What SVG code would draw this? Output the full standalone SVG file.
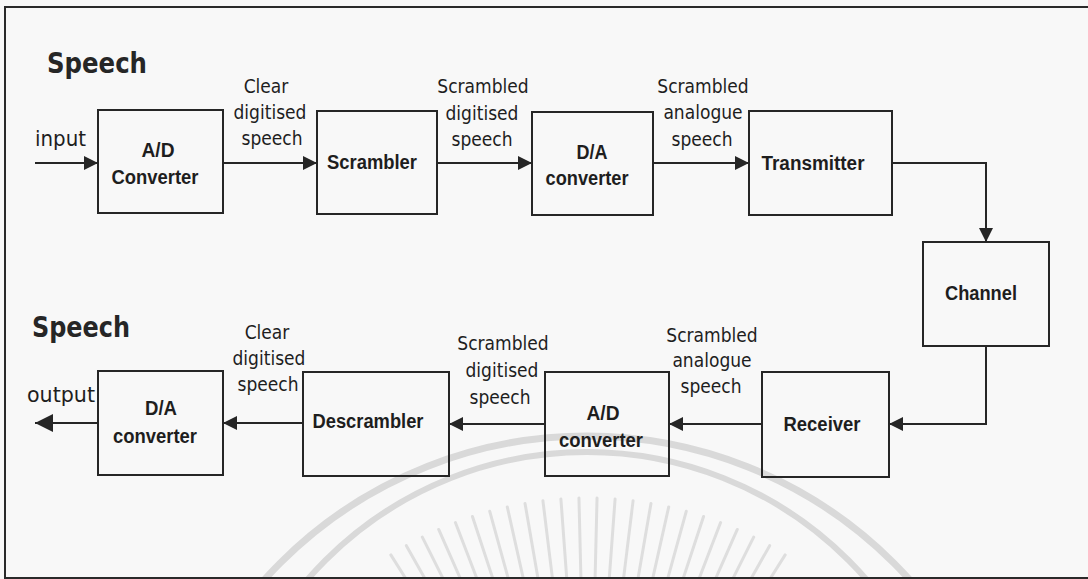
<svg xmlns="http://www.w3.org/2000/svg" width="1088" height="579" viewBox="0 0 1088 579">
  <defs>
    <style>
      .box { fill: none; stroke: #262626; stroke-width: 2; }
      .wire { fill: none; stroke: #262626; stroke-width: 2; }
      .lbl { font-family: "DejaVu Sans Condensed", "DejaVu Sans", sans-serif; font-size: 19px; fill: #1e1e1e; text-anchor: middle; }
      .io { font-family: "DejaVu Sans Condensed", "DejaVu Sans", sans-serif; font-size: 21px; fill: #1e1e1e; }
      .title { font-family: "DejaVu Sans Condensed", "DejaVu Sans", sans-serif; font-size: 29px; font-weight: bold; fill: #262626; }
      .node { font-family: "Liberation Sans", Arial, sans-serif; font-size: 20px; font-weight: bold; fill: #1e1e1e; text-anchor: middle; }
      .wm { fill: none; stroke: #d9d9d9; }
    </style>
    <marker id="head" markerUnits="userSpaceOnUse" markerWidth="14" markerHeight="14" refX="14" refY="7" orient="auto">
      <path d="M0,0 L14,7 L0,14 Z" fill="#262626"/>
    </marker>
    <marker id="headBig" markerUnits="userSpaceOnUse" markerWidth="18" markerHeight="18" refX="18" refY="9" orient="auto">
      <path d="M0,0 L18,9 L0,18 Z" fill="#262626"/>
    </marker>
  </defs>

  <!-- paper -->
  <rect x="0" y="0" width="1088" height="579" fill="#f8f8f8"/>

  <!-- faint seal in the background -->
  <g id="seal">
    <circle class="wm" cx="587" cy="870" r="434" stroke-width="7"/>
    <circle class="wm" cx="587" cy="822" r="370" stroke-width="6"/>
    <g transform="translate(588,868)" stroke="#dedede" stroke-width="3" stroke-linecap="round">
      <line x1="0" y1="-285" x2="0" y2="-370" transform="rotate(-32.2)"/>
      <line x1="0" y1="-285" x2="0" y2="-370" transform="rotate(-29.4)"/>
      <line x1="0" y1="-285" x2="0" y2="-370" transform="rotate(-26.6)"/>
      <line x1="0" y1="-285" x2="0" y2="-370" transform="rotate(-23.8)"/>
      <line x1="0" y1="-285" x2="0" y2="-370" transform="rotate(-21)"/>
      <line x1="0" y1="-285" x2="0" y2="-370" transform="rotate(-18.2)"/>
      <line x1="0" y1="-285" x2="0" y2="-370" transform="rotate(-15.4)"/>
      <line x1="0" y1="-285" x2="0" y2="-370" transform="rotate(-12.6)"/>
      <line x1="0" y1="-285" x2="0" y2="-370" transform="rotate(-9.8)"/>
      <line x1="0" y1="-285" x2="0" y2="-370" transform="rotate(-7)"/>
      <line x1="0" y1="-285" x2="0" y2="-370" transform="rotate(-4.2)"/>
      <line x1="0" y1="-285" x2="0" y2="-370" transform="rotate(-1.4)"/>
      <line x1="0" y1="-285" x2="0" y2="-370" transform="rotate(1.4)"/>
      <line x1="0" y1="-285" x2="0" y2="-370" transform="rotate(4.2)"/>
      <line x1="0" y1="-285" x2="0" y2="-370" transform="rotate(7)"/>
      <line x1="0" y1="-285" x2="0" y2="-370" transform="rotate(9.8)"/>
      <line x1="0" y1="-285" x2="0" y2="-370" transform="rotate(12.6)"/>
      <line x1="0" y1="-285" x2="0" y2="-370" transform="rotate(15.4)"/>
      <line x1="0" y1="-285" x2="0" y2="-370" transform="rotate(18.2)"/>
      <line x1="0" y1="-285" x2="0" y2="-370" transform="rotate(21)"/>
      <line x1="0" y1="-285" x2="0" y2="-370" transform="rotate(23.8)"/>
      <line x1="0" y1="-285" x2="0" y2="-370" transform="rotate(26.6)"/>
      <line x1="0" y1="-285" x2="0" y2="-370" transform="rotate(29.4)"/>
      <line x1="0" y1="-285" x2="0" y2="-370" transform="rotate(32.2)"/>
    </g>
  </g>

  <!-- outer frame (open on the right) -->
  <path d="M1088,7 H5 V578 H1088" fill="none" stroke="#2a2a2a" stroke-width="2"/>

  <!-- headings and signal ends -->
  <text class="title" x="47" y="73" textLength="100" lengthAdjust="spacingAndGlyphs">Speech</text>
  <text class="io" x="35" y="146" textLength="51" lengthAdjust="spacingAndGlyphs">input</text>
  <text class="title" x="32" y="337" textLength="98" lengthAdjust="spacingAndGlyphs">Speech</text>
  <text class="io" x="27" y="402" textLength="68" lengthAdjust="spacingAndGlyphs">output</text>

  <!-- transmit chain -->
  <g id="ad-top">
    <rect class="box" x="98" y="110" width="125" height="103"/>
    <text class="node" x="158" y="157" textLength="33" lengthAdjust="spacingAndGlyphs">A/D</text>
    <text class="node" x="155" y="184" textLength="87" lengthAdjust="spacingAndGlyphs">Converter</text>
  </g>
  <g id="scrambler">
    <rect class="box" x="317" y="111" width="120" height="103"/>
    <text class="node" x="372" y="169" textLength="90" lengthAdjust="spacingAndGlyphs">Scrambler</text>
  </g>
  <g id="da-top">
    <rect class="box" x="532" y="112" width="121" height="103"/>
    <text class="node" x="592" y="159" textLength="31" lengthAdjust="spacingAndGlyphs">D/A</text>
    <text class="node" x="587" y="185" textLength="83" lengthAdjust="spacingAndGlyphs">converter</text>
  </g>
  <g id="transmitter">
    <rect class="box" x="749" y="111" width="143" height="104"/>
    <text class="node" x="813" y="170" textLength="103" lengthAdjust="spacingAndGlyphs">Transmitter</text>
  </g>
  <g id="channel">
    <rect class="box" x="923" y="242" width="126" height="104"/>
    <text class="node" x="981" y="300" textLength="72" lengthAdjust="spacingAndGlyphs">Channel</text>
  </g>

  <!-- receive chain -->
  <g id="receiver">
    <rect class="box" x="762" y="372" width="127" height="105"/>
    <text class="node" x="822" y="431" textLength="77" lengthAdjust="spacingAndGlyphs">Receiver</text>
  </g>
  <g id="ad-bottom">
    <rect class="box" x="545" y="372" width="124" height="104"/>
    <text class="node" x="603" y="420" textLength="33" lengthAdjust="spacingAndGlyphs">A/D</text>
    <text class="node" x="601" y="447" textLength="84" lengthAdjust="spacingAndGlyphs">converter</text>
  </g>
  <g id="descrambler">
    <rect class="box" x="303" y="372" width="146" height="104"/>
    <text class="node" x="368" y="428" textLength="111" lengthAdjust="spacingAndGlyphs">Descrambler</text>
  </g>
  <g id="da-bottom">
    <rect class="box" x="98" y="371" width="125" height="104"/>
    <text class="node" x="161" y="415" textLength="32" lengthAdjust="spacingAndGlyphs">D/A</text>
    <text class="node" x="155" y="443" textLength="84" lengthAdjust="spacingAndGlyphs">converter</text>
  </g>

  <!-- connectors -->
  <g id="connectors">
    <line class="wire" x1="35" y1="163" x2="98" y2="163" marker-end="url(#head)"/>
    <line class="wire" x1="223" y1="163" x2="317" y2="163" marker-end="url(#head)"/>
    <line class="wire" x1="437" y1="163" x2="532" y2="163" marker-end="url(#head)"/>
    <line class="wire" x1="653" y1="163" x2="749" y2="163" marker-end="url(#head)"/>
    <path class="wire" d="M892,163 H986 V242" marker-end="url(#head)"/>
    <path class="wire" d="M986,346 V424 H889" marker-end="url(#head)"/>
    <line class="wire" x1="762" y1="424" x2="669" y2="424" marker-end="url(#head)"/>
    <line class="wire" x1="545" y1="424" x2="449" y2="424" marker-end="url(#head)"/>
    <line class="wire" x1="303" y1="423" x2="223" y2="423" marker-end="url(#head)"/>
    <line class="wire" x1="98" y1="423" x2="35" y2="423" marker-end="url(#headBig)"/>
  </g>

  <!-- connector labels, transmit side -->
  <g id="labels-top">
    <text class="lbl" x="266" y="93">Clear</text>
    <text class="lbl" x="270" y="119">digitised</text>
    <text class="lbl" x="272" y="145">speech</text>
    <text class="lbl" x="483" y="93">Scrambled</text>
    <text class="lbl" x="482" y="120">digitised</text>
    <text class="lbl" x="482" y="146">speech</text>
    <text class="lbl" x="703" y="93">Scrambled</text>
    <text class="lbl" x="703" y="119">analogue</text>
    <text class="lbl" x="702" y="146">speech</text>
  </g>

  <!-- connector labels, receive side -->
  <g id="labels-bottom">
    <text class="lbl" x="267" y="339">Clear</text>
    <text class="lbl" x="269" y="365">digitised</text>
    <text class="lbl" x="268" y="391">speech</text>
    <text class="lbl" x="503" y="350">Scrambled</text>
    <text class="lbl" x="502" y="377">digitised</text>
    <text class="lbl" x="500" y="404">speech</text>
    <text class="lbl" x="712" y="342">Scrambled</text>
    <text class="lbl" x="712" y="367">analogue</text>
    <text class="lbl" x="711" y="393">speech</text>
  </g>
</svg>
